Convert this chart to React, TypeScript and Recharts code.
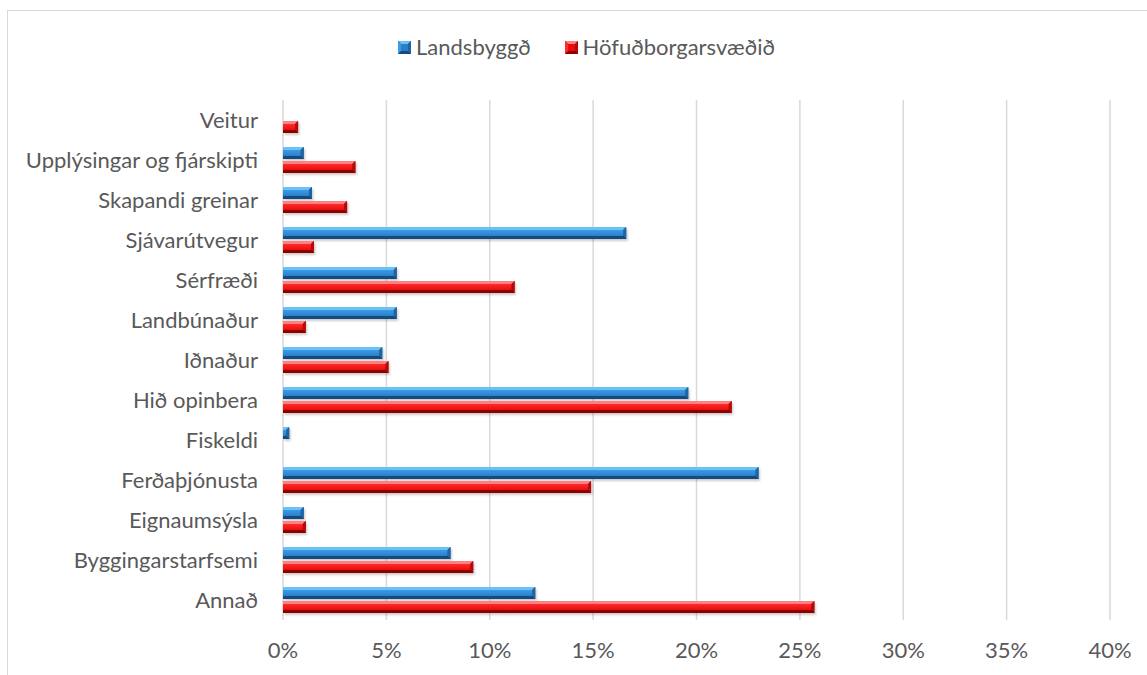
import React from 'react';
import { BarChart, Bar, XAxis, YAxis, CartesianGrid } from 'recharts';

const categories = [
  'Veitur',
  'Upplýsingar og fjárskipti',
  'Skapandi greinar',
  'Sjávarútvegur',
  'Sérfræði',
  'Landbúnaður',
  'Iðnaður',
  'Hið opinbera',
  'Fiskeldi',
  'Ferðaþjónusta',
  'Eignaumsýsla',
  'Byggingarstarfsemi',
  'Annað',
];
const landsbyggd = [0, 0.010, 0.014, 0.166, 0.055, 0.055, 0.048, 0.196, 0.003, 0.230, 0.010, 0.081, 0.122];
const hofudborg = [0.0073, 0.035, 0.031, 0.015, 0.112, 0.011, 0.051, 0.217, 0, 0.149, 0.011, 0.092, 0.257];
const xTicks = [0, 0.05, 0.1, 0.15, 0.2, 0.25, 0.3, 0.35, 0.4];
const seriesNames = ['Landsbyggð', 'Höfuðborgarsvæðið'];

const data = categories.map((c, i) => ({ name: c, l: landsbyggd[i], h: hofudborg[i] }));

const COLORS: Record<string, { light: string; face: string; face2: string; side: string; dark: string }> = {
  blue: { light: '#6cc0f8', face: '#3a9be6', face2: '#2a7fc8', side: '#1f64a3', dark: '#174a7c' },
  red: { light: '#ff8080', face: '#ff2a2a', face2: '#e80d0d', side: '#b80808', dark: '#8c0000' },
};

const FONT = 'Lato, "Open Sans", sans-serif';
const TEXT = '#595959';
const FS = 22;

const BevelBar = (props: any) => {
  const { x, y, width, height, kind } = props;
  if (!width || width <= 0.5) return null;
  const c = COLORS[kind];
  const b = Math.min(3, width / 2);
  const w = width;
  const h = height;
  return (
    <g>
      <rect x={x + 1.5} y={y + 2} width={w} height={h} fill="rgba(0,0,0,0.2)" filter="url(#sh)" />
      <rect x={x} y={y} width={w} height={h} fill={c.dark} />
      <polygon points={`${x},${y} ${x + w},${y} ${x + w - b},${y + b} ${x},${y + b}`} fill={c.light} />
      <polygon points={`${x + w},${y} ${x + w},${y + h} ${x + w - b},${y + h - b} ${x + w - b},${y + b}`} fill={c.side} />
      <polygon points={`${x},${y + h} ${x + w},${y + h} ${x + w - b},${y + h - b} ${x},${y + h - b}`} fill={c.dark} />
      <rect x={x} y={y + b} width={Math.max(0, w - b)} height={Math.max(0, h - 2 * b)} fill={`url(#g-${kind})`} />
    </g>
  );
};

const LegendIcon = ({ kind }: { kind: string }) => {
  const c = COLORS[kind];
  const s = 13;
  const b = 3;
  return (
    <svg width={s} height={s} style={{ display: 'block', marginRight: 5 }}>
      <rect x={0} y={0} width={s} height={s} fill={c.dark} />
      <polygon points={`0,0 ${s},0 ${s - b},${b} ${b},${b}`} fill={c.light} />
      <polygon points={`0,0 ${b},${b} ${b},${s - b} 0,${s}`} fill={c.face} />
      <polygon points={`${s},0 ${s},${s} ${s - b},${s - b} ${s - b},${b}`} fill={c.side} />
      <rect x={b} y={b} width={s - 2 * b} height={s - 2 * b} fill={c.face2} />
    </svg>
  );
};

export default function App() {
  return (
    <div style={{ position: 'fixed', left: 0, top: 0, width: 1147, height: 675, overflow: 'hidden', background: '#fff' }}>
      <div style={{ position: 'absolute', left: 0, top: 0 }}>
        <BarChart
          width={1147}
          height={675}
          data={data}
          layout="vertical"
          margin={{ top: 100, right: 37, bottom: 0, left: 0 }}
          barSize={12}
          barGap={2}
        >
          <defs>
            <filter id="sh" x="-10%" y="-50%" width="120%" height="200%">
              <feGaussianBlur stdDeviation="1.2" />
            </filter>
            <linearGradient id="g-blue" x1="0" y1="0" x2="0" y2="1">
              <stop offset="0" stopColor={COLORS.blue.face} />
              <stop offset="1" stopColor={COLORS.blue.face2} />
            </linearGradient>
            <linearGradient id="g-red" x1="0" y1="0" x2="0" y2="1">
              <stop offset="0" stopColor={COLORS.red.face} />
              <stop offset="1" stopColor={COLORS.red.face2} />
            </linearGradient>
          </defs>
          <CartesianGrid horizontal={false} stroke="#d9d9d9" strokeWidth={1.5} />
          <XAxis
            type="number"
            domain={[0, 0.4]}
            ticks={xTicks}
            interval={0}
            tickFormatter={(v: number) => `${Math.round(v * 100)}%`}
            axisLine={false}
            tickLine={false}
            tickSize={0}
            tickMargin={22}
            height={55}
            tick={{ fill: TEXT, fontSize: FS, fontFamily: FONT }}
          />
          <YAxis
            type="category"
            dataKey="name"
            width={283}
            axisLine={false}
            tickLine={false}
            tickSize={0}
            tickMargin={25}
            interval={0}
            tick={{ fill: TEXT, fontSize: FS, fontFamily: FONT }}
          />
          <Bar dataKey="l" name={seriesNames[0]} isAnimationActive={false} shape={(p: any) => <BevelBar {...p} kind="blue" />} />
          <Bar dataKey="h" name={seriesNames[1]} isAnimationActive={false} shape={(p: any) => <BevelBar {...p} kind="red" />} />
        </BarChart>
      </div>
      <div
        style={{
          position: 'absolute',
          left: 0,
          top: 32,
          width: 1147,
          display: 'flex',
          justifyContent: 'center',
          paddingLeft: 26,
          boxSizing: 'border-box',
          fontFamily: FONT,
          fontSize: FS,
          color: TEXT,
          lineHeight: '30px',
        }}
      >
        <span style={{ marginRight: 34, display: 'flex', alignItems: 'center' }}>
          <LegendIcon kind="blue" />
          {seriesNames[0]}
        </span>
        <span style={{ display: 'flex', alignItems: 'center' }}>
          <LegendIcon kind="red" />
          {seriesNames[1]}
        </span>
      </div>
      <div
        style={{
          position: 'absolute',
          left: 7,
          top: 10,
          width: 1200,
          height: 700,
          border: '1.5px solid #d9d9d9',
          boxSizing: 'border-box',
          pointerEvents: 'none',
        }}
      />
    </div>
  );
}
